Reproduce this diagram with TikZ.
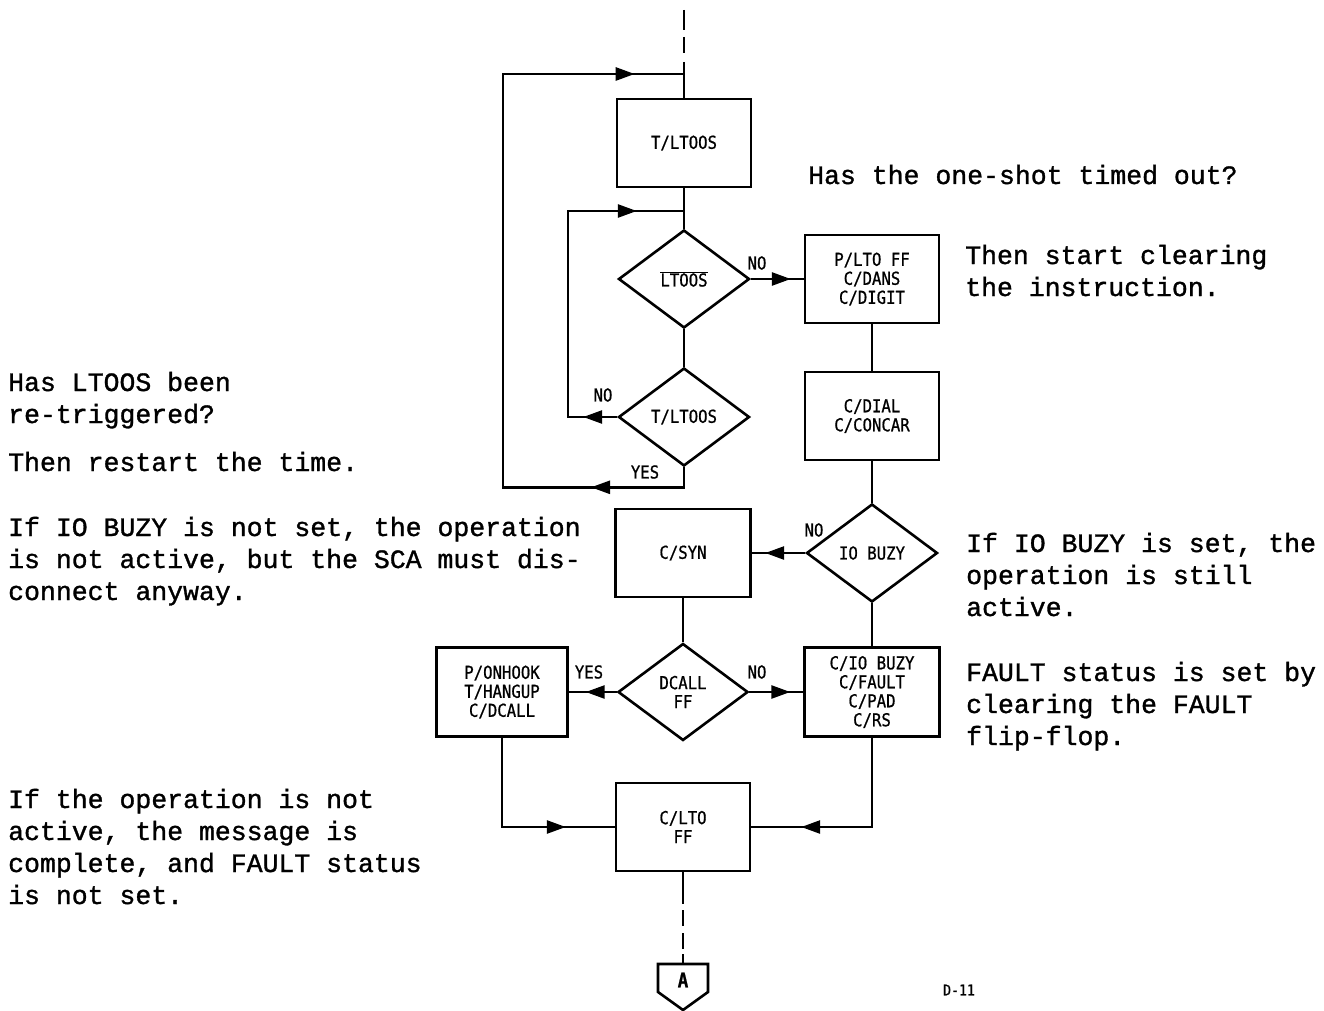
\documentclass[tikz,border=0pt]{standalone}
\usepackage{fontspec}
\usetikzlibrary{shapes.geometric,arrows.meta,decorations.markings}
\newfontfamily\twfont[FakeBold=1.2]{Liberation Mono}
\newfontfamily\boxfont[FakeStretch=0.88,FakeBold=0.8]{DejaVu Sans Mono}
\newcommand\bxf{\boxfont\fontsize{17.8}{19}\selectfont}
\tikzset{
  ln/.style={line width=2.6pt, line join=miter},
  box/.style={draw, line width=2.6pt, minimum width=134pt, minimum height=88pt,
    inner sep=0pt, font=\bxf, align=center},
  dia/.style={draw, diamond, line width=2.6pt, minimum width=131pt, minimum height=98pt,
    inner sep=0pt, font=\bxf, align=center},
  lbl/.style={font=\bxf, inner sep=0pt},
  txt/.style={font=\twfont\fontsize{26.5}{32}\selectfont, inner sep=0pt, anchor=base west},
  tipat/.style={postaction={decorate}, decoration={markings,
    mark=at position #1 with {\arrow{Triangle[length=19pt,width=13pt]}}}},
  tiptwo/.style n args={2}{postaction={decorate}, decoration={markings,
    mark=at position #1 with {\arrow{Triangle[length=19pt,width=13pt]}},
    mark=at position #2 with {\arrow{Triangle[length=19pt,width=13pt]}}}},
}
\begin{document}
\begin{tikzpicture}[x=1pt,y=-1pt]
\useasboundingbox (0,0) rectangle (1324,1011);
\fill[white] (0,0) rectangle (1324,1011);

% nodes
\node[box] (tl) at (684,143) {T/LTOOS};
\node[dia] (d1) at (684,279) {$\overline{\hbox{LTOOS}}$};
\node[dia] (d2) at (684,417) {T/LTOOS};
\node[box] (b2) at (872,279) {P/LTO FF\\C/DANS\\C/DIGIT};
\node[box] (b3) at (872,416) {C/DIAL\\C/CONCAR};
\node[dia] (d3) at (872,553) {IO BUZY};
\node[box, minimum width=135pt] (b4) at (683,553) {C/SYN};
\node[dia, minimum width=130pt, minimum height=97pt] (d4) at (683,692) {DCALL\\FF};
\node[box, minimum width=131pt, minimum height=89pt] (b5) at (502,692) {P/ONHOOK\\T/HANGUP\\C/DCALL};
\node[box, minimum width=135pt, minimum height=89pt] (b6) at (872,692) {C/IO BUZY\\C/FAULT\\C/PAD\\C/RS};
\node[box] (b7) at (683,827) {C/LTO\\FF};

% coordinates
\coordinate (top) at (684,10);
\coordinate (j1) at (684,74);
\coordinate (oL) at (503,74);
\coordinate (j2) at (684,211);
\coordinate (iL) at (568,211);
\coordinate (conntop) at (683,964);

% connector A
\draw[ln] (658,964) -- (708,964) -- (708,992) -- (683,1010) -- (658,992) -- cycle;
\node[font=\boxfont\bfseries\fontsize{20}{20}\selectfont, inner sep=0pt] (conn) at (683,980) {A};

% lines
\draw[ln, dash pattern=on 20pt off 7pt on 16pt off 9pt on 200pt] (top) -- (tl.north);
\draw[ln] (tl.south) -- (d1.north);
\draw[ln] (d1.south) -- (d2.north);
\draw[ln] (b2.south) -- (b3.north);
\draw[ln] (b3.south) -- (d3.north);
\draw[ln] (b4.south) -- (d4.north);
\draw[ln] (d3.south) -- (b6.north);
\draw[ln, dash pattern=on 32pt off 6pt on 16pt off 7pt on 16pt off 5pt on 100pt] (b7.south) -- (conntop);

\draw[ln, tipat=40pt] (d1.east) -- (b2.west);
\draw[ln, tipat=40pt] (d3.west) -- (b4.east);
\draw[ln, tipat=31pt] (d4.west) -- (b5.east);
\draw[ln, tipat=41pt] (d4.east) -- (b6.west);
\draw[ln, tiptwo={34pt}{324pt}] (d2.west) -| (iL) -- (j2);
\draw[ln, tiptwo={113pt}{746pt}] (d2.south) -- ++(0,20) -| (oL) -- (j1);
\draw[ln, tipat=153pt] (b5.south) |- (b7.west);
\draw[ln, tipat=160pt] (b6.south) |- (b7.east);

% branch labels
\node[lbl] (n1) at (757,263) {NO};
\node[lbl] (n2) at (603,395) {NO};
\node[lbl] (y2) at (645,472) {YES};
\node[lbl] (n3) at (814,530) {NO};
\node[lbl] (y4) at (589,672) {YES};
\node[lbl] (n4) at (757,672) {NO};

\node[font=\boxfont\fontsize{15}{17}\selectfont, inner sep=0pt] (pg) at (959,990) {D-11};

% right texts
\node[txt] (r1) at (808,184) {Has the one-shot timed out?};
\node[txt] (r2) at (965,264) {Then start clearing};
\node[txt] (r3) at (965,296) {the instruction.};
\node[txt] (r4) at (966,552) {If IO BUZY is set, the};
\node[txt] (r5) at (966,584) {operation is still};
\node[txt] (r6) at (966,616) {active.};
\node[txt] (r7) at (966,681) {FAULT status is set by};
\node[txt] (r8) at (966,713) {clearing the FAULT};
\node[txt] (r9) at (966,745) {flip-flop.};
% left texts
\node[txt] (l1) at (8,391) {Has LTOOS been};
\node[txt] (l2) at (8,423) {re-triggered?};
\node[txt] (l3) at (8,471) {Then restart the time.};
\node[txt] (l4) at (8,536) {If IO BUZY is not set, the operation};
\node[txt] (l5) at (8,568) {is not active, but the SCA must dis-};
\node[txt] (l6) at (8,600) {connect anyway.};
\node[txt] (l7) at (8,808) {If the operation is not};
\node[txt] (l8) at (8,840) {active, the message is};
\node[txt] (l9) at (8,872) {complete, and FAULT status};
\node[txt] (l10) at (8,904) {is not set.};
\end{tikzpicture}
\end{document}
